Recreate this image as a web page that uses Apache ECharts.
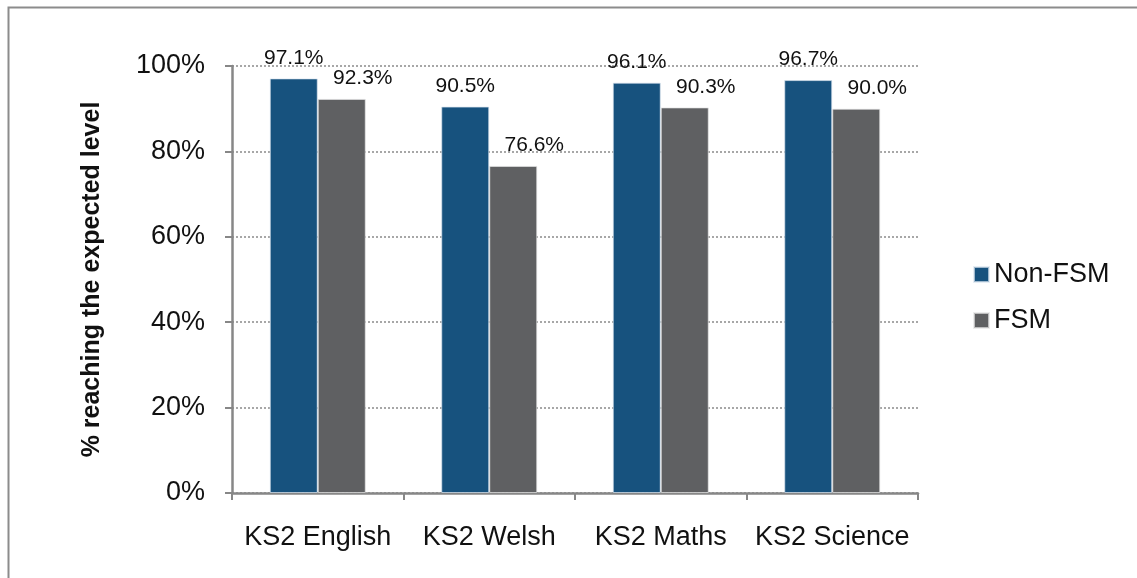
<!DOCTYPE html>
<html>
<head>
<meta charset="utf-8">
<title>KS2 FSM</title>
<script src="https://cdn.jsdelivr.net/npm/echarts@6/dist/echarts.min.js"></script>
<style>
  html, body { margin: 0; padding: 0; background: #fff; }
  #chart { width: 1137px; height: 578px; }
</style>
</head>
<body>
<div id="chart"></div>
<script>
// values
const categories = ["KS2 English", "KS2 Welsh", "KS2 Maths", "KS2 Science"];
const nonFsm = [97.1, 90.5, 96.1, 96.7];
const fsm = [92.3, 76.6, 90.3, 90.0];
const yTicks = [0, 20, 40, 60, 80, 100];

const font = "Liberation Sans, Arial, sans-serif";
const axisGrey = "#878787";

const myChart = echarts.init(document.getElementById("chart"));

const labelStyle = {
  show: true,
  position: "top",
  distance: 10,
  color: "#111",
  fontFamily: font,
  fontSize: 21,
  formatter: p => p.value.toFixed(1) + "%"
};

const option = {
  animation: false,
  backgroundColor: "#fff",
  textStyle: { fontFamily: font },
  graphic: [
    {
      type: "rect",
      shape: { x: 8.5, y: 7.5, width: 1200, height: 620 },
      style: { fill: "none", stroke: "#8c8c8c", lineWidth: 2 },
      silent: true
    }
  ],
  grid: { left: 232, right: 219, top: 66, bottom: 85 },
  legend: {
    orient: "vertical",
    left: 968,
    top: 256,
    itemWidth: 15,
    itemHeight: 15,
    itemGap: 19,
    icon: "rect",
    data: ["Non-FSM", "FSM"],
    textStyle: { fontFamily: font, fontSize: 27, color: "#111", padding: [0, 0, 0, 0] }
  },
  xAxis: {
    type: "category",
    data: categories,
    axisLine: { lineStyle: { color: axisGrey, width: 2.5 } },
    axisTick: { show: true, interval: 0, length: 7, lineStyle: { color: axisGrey, width: 2 } },
    axisLabel: { interval: 0, color: "#111", fontFamily: font, fontSize: 27, margin: 31 }
  },
  yAxis: {
    type: "value",
    min: yTicks[0],
    max: yTicks[yTicks.length - 1],
    interval: yTicks[1] - yTicks[0],
    name: "% reaching the expected level",
    nameLocation: "middle",
    nameGap: 127,
    nameTextStyle: { fontFamily: font, fontSize: 25, fontWeight: "bold", color: "#111" },
    axisLine: { show: true, lineStyle: { color: axisGrey, width: 2.5 } },
    axisTick: { show: true, length: 7, lineStyle: { color: axisGrey, width: 2 } },
    axisLabel: {
      color: "#111",
      fontFamily: font,
      fontSize: 27,
      margin: 27,
      formatter: "{value}%"
    },
    splitLine: {
      show: true,
      lineStyle: { color: "#8a8a8a", width: 1.5, type: [2, 2] }
    }
  },
  series: [
    {
      name: "Non-FSM",
      type: "bar",
      data: nonFsm,
      barWidth: 48,
      barGap: "0%",
      itemStyle: { color: "#17527e", borderColor: "rgba(220,230,240,0.7)", borderWidth: 1 },
      label: labelStyle
    },
    {
      name: "FSM",
      type: "bar",
      data: fsm,
      barWidth: 48,
      itemStyle: { color: "#5f6062", borderColor: "rgba(230,230,230,0.7)", borderWidth: 1 },
      label: Object.assign({}, labelStyle, { offset: [21, 0] })
    }
  ]
};

myChart.setOption(option);
</script>
</body>
</html>
